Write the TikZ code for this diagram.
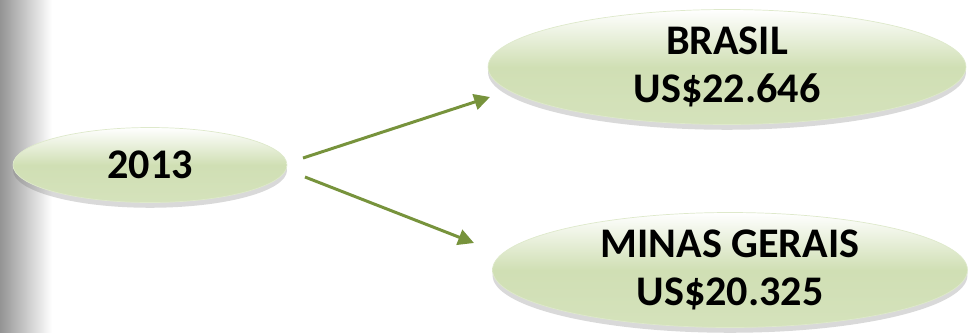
\documentclass[tikz,border=0pt]{standalone}
\usepackage{fontspec}
\setmainfont{Carlito}
\usepackage{xcolor}
\usepackage{tikz}
\usetikzlibrary{positioning,shapes,shadows,arrows.meta}

\definecolor{ovalgreen}{RGB}{208,223,180}
\definecolor{arrowgreen}{RGB}{119,147,60}

\begin{document}
\begin{tikzpicture}[x=0.02cm, y=-0.02cm,
             oval/.style={ellipse, inner sep=0pt, top color=white, bottom color=ovalgreen!90,
                 middle color=ovalgreen, draw=ovalgreen!70!white, line width=0.4pt,
                 drop shadow={shadow xshift=0pt, shadow yshift=-3pt, opacity=.25, fill=black!60},
                 font=\fontsize{24}{27}\selectfont\bfseries, align=center},
             link/.style={draw=arrowgreen, line width=1.7pt, -{Triangle[length=9pt,width=9pt]}}]
             \useasboundingbox (0,0) rectangle (969,332);
             % faixa cinza a esquerda
             \shade[left color=black!42, right color=white] (0,0) rectangle (52,332);
             \node[oval, minimum width=5.48cm, minimum height=1.5cm] (ano) at (150,165) {2013};
             \node[oval, minimum width=9.56cm, minimum height=2.3cm] (brasil) at (727,67) {BRASIL\\US\$22.646};
             \node[oval, minimum width=9.5cm, minimum height=2.3cm] (minas) at (730,270) {MINAS GERAIS\\US\$20.325};
             \coordinate (ano-a) at (303,158);
             \coordinate (ano-b) at (305,177);
             \coordinate (brasil-in) at (490,97);
             \coordinate (minas-in) at (474,243);
             \draw[link] (ano-a) -- (brasil-in);
             \draw[link] (ano-b) -- (minas-in);
         \end{tikzpicture}
\end{document}
